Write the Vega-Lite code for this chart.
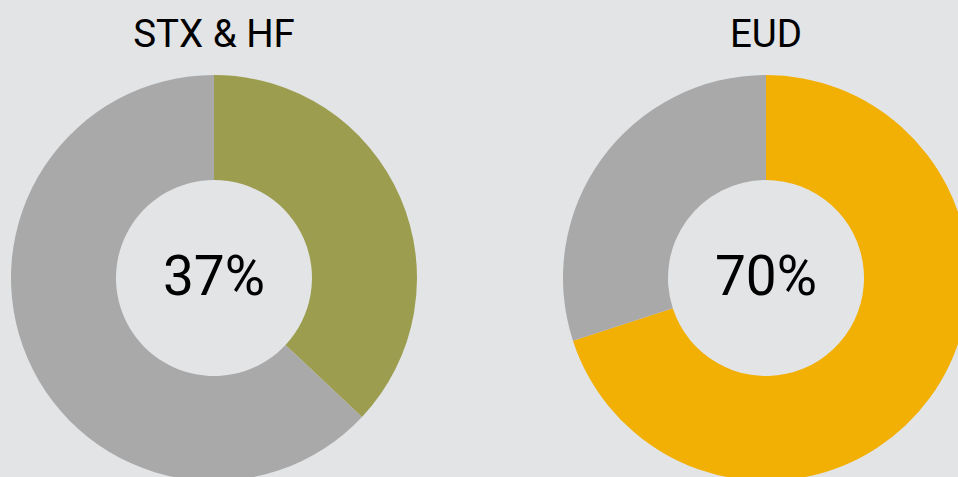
{
  "$schema": "https://vega.github.io/schema/vega-lite/v6.json",
  "background": "#e2e4e6",
  "padding": {"top": 15, "left": 5, "right": 5, "bottom": 5},
  "data": {
    "values": [
      {"group": "STX & HF", "part": "share", "segment": "STX & HF", "value": 37, "label": "37%"},
      {"group": "STX & HF", "part": "rest", "segment": "Other", "value": 63, "label": ""},
      {"group": "EUD", "part": "share", "segment": "EUD", "value": 70, "label": "70%"},
      {"group": "EUD", "part": "rest", "segment": "Other", "value": 30, "label": ""}
    ]
  },
  "facet": {
    "column": {
      "field": "group",
      "type": "nominal",
      "sort": ["STX & HF", "EUD"],
      "header": {
        "title": null,
        "labelFontSize": 38.5,
        "labelFont": "Roboto",
        "labelColor": "#000000",
        "labelPadding": 10
      }
    }
  },
  "spacing": 134,
  "spec": {
    "width": 418,
    "height": 426,
    "layer": [
      {
        "mark": {"type": "arc", "outerRadius": 203, "innerRadius": 98},
        "encoding": {
          "theta": {"field": "value", "type": "quantitative", "stack": true},
          "order": {"field": "part", "sort": "descending"},
          "color": {
            "field": "segment",
            "type": "nominal",
            "scale": {"domain": ["STX & HF", "EUD", "Other"], "range": ["#9c9d4f", "#f2af04", "#a9a9a9"]},
            "legend": null
          }
        }
      },
      {
        "transform": [{"filter": "datum.part === 'share'"}],
        "mark": {"type": "text", "font": "Roboto", "fontSize": 55, "color": "#000000", "baseline": "middle", "align": "center"},
        "encoding": {"text": {"field": "label", "type": "nominal"}}
      }
    ]
  },
  "config": {"view": {"stroke": null}}
}
